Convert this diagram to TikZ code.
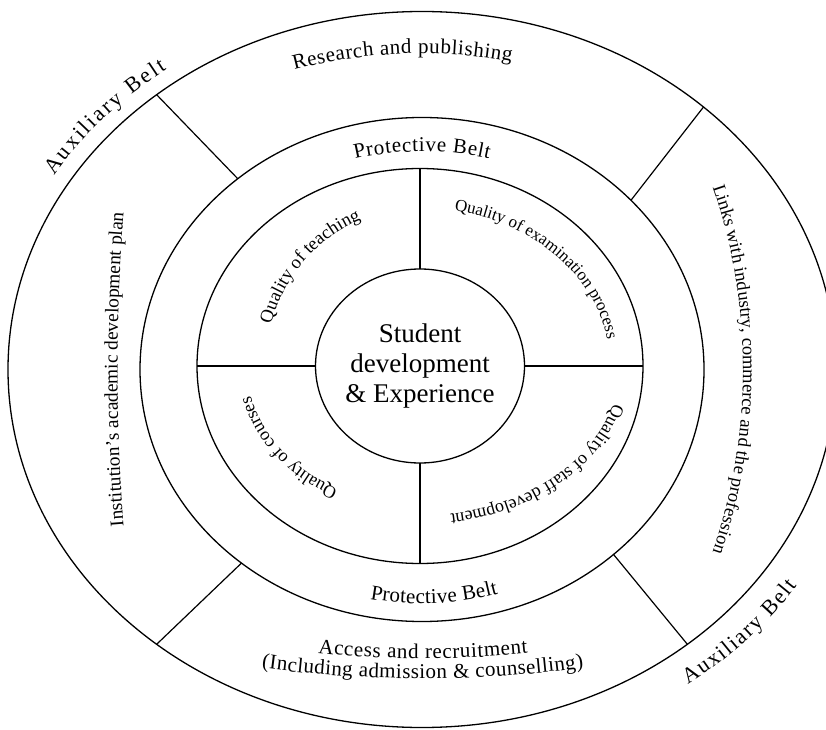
\documentclass[tikz,border=0pt]{standalone}
\usepackage{fontspec}
\setmainfont{Liberation Serif}
\usepackage{tikz}
\usetikzlibrary{shapes.geometric}
\usetikzlibrary{decorations.text}
\usetikzlibrary{calc}

\begin{document}
\begin{tikzpicture}[x=1pt,y=1pt]

\tikzstyle{ring}=[draw,ellipse,line width=1.3pt,inner sep=0pt,outer sep=0pt]
\tikzstyle{spoke}=[line width=1.2pt]
\tikzset{curved/.style 2 args={decorate,decoration={text along path,text align=center,text={|\fontsize{#1}{#1}\selectfont|#2}}}}
\tikzset{spread/.style 2 args={decorate,decoration={text along path,text align=fit to path,text={|\fontsize{#1}{#1}\selectfont|#2}}}}

\clip (0,0) rectangle (826,729);

% CENTRES
\coordinate (mid) at (422,359.5);
\coordinate (hub) at (420,363);

% BELTS
\node (auxiliary) [ring,minimum width=828pt,minimum height=716pt] at (mid) {};
\node (protective) [ring,minimum width=564pt,minimum height=504pt] at (mid) {};
\node (quality) [ring,minimum width=446pt,minimum height=395pt] at (hub) {};
\node (core) [ring,minimum width=209pt,minimum height=194pt] at (hub) {};
\node (student) [align=center,font=\fontsize{27}{30}\selectfont] at (core.center) {Student\\development\\\& Experience};

% SPOKES
\draw [spoke] (protective.134) -- (auxiliary.134);
\draw [spoke] (protective.39) -- (auxiliary.43);
\draw [spoke] (protective.227) -- (auxiliary.226);
\draw [spoke] (protective.316) -- (auxiliary.314);
\draw [spoke] (core.north) -- (quality.north);
\draw [spoke] (core.south) -- (quality.south);
\draw [spoke] (core.west) -- (quality.west);
\draw [spoke] (core.east) -- (quality.east);

% AUXILIARY BELT TEXT
\path [spread={21}{Research and publishing}] ($(mid)+(108.6:400 and 316)$) arc [start angle=108.6,end angle=77.1,x radius=400,y radius=316];
\path [curved={18.5}{Links with industry, commerce and the profession}] ($(mid)+(28:321 and 430)$) arc [start angle=28,end angle=-28,x radius=321,y radius=430];
\path [curved={19.3}{Institution's academic development plan}] ($(mid)+(194:304.5 and 780)$) arc [start angle=194,end angle=166,x radius=304.5,y radius=780];
\path [spread={21}{Access and recruitment}] ($(mid)+(259.3:560 and 289)$) arc [start angle=259.3,end angle=280.9,x radius=560,y radius=289];
\path [spread={21}{(Including admission {\&} counselling)}] ($(mid)+(255:620 and 309)$) arc [start angle=255,end angle=285.1,x radius=620,y radius=309];
\path [spread={22}{Auxiliary Belt}] ($(mid)+(148.6:431 and 372)$) arc [start angle=148.6,end angle=126.3,x radius=431,y radius=372];
\path [spread={22}{Auxiliary Belt}] ($(mid)+(306.1:451 and 390)$) arc [start angle=306.1,end angle=326.3,x radius=451,y radius=390];

% PROTECTIVE BELT TEXT
\path [spread={21}{Protective Belt}] ($(mid)+(105.1:257 and 218)$) arc [start angle=105.1,end angle=74.9,x radius=257,y radius=218];
\path [spread={21}{Protective Belt}] ($(mid)+(258.7:265 and 234)$) arc [start angle=258.7,end angle=286.7,x radius=265,y radius=234];

% QUALITY TEXT
\path [curved={18.5}{Quality of teaching}] ($(hub)+(169:154.5 and 158.4)$) arc [start angle=169,end angle=108,x radius=154.5,y radius=158.4];
\path [curved={17}{Quality of examination process}] ($(hub)+(86:190 and 158.1)$) arc [start angle=86,end angle=2,x radius=190,y radius=158.1];
\path [curved={18}{Quality of staff development}] ($(hub)+(-8.5:200 and 150)$) arc [start angle=-8.5,end angle=-86,x radius=200,y radius=150];
\path [curved={18}{Quality of courses}] ($(hub)+(245.5:173.3 and 139.8)$) arc [start angle=245.5,end angle=188,x radius=173.3,y radius=139.8];

\end{tikzpicture}
\end{document}
